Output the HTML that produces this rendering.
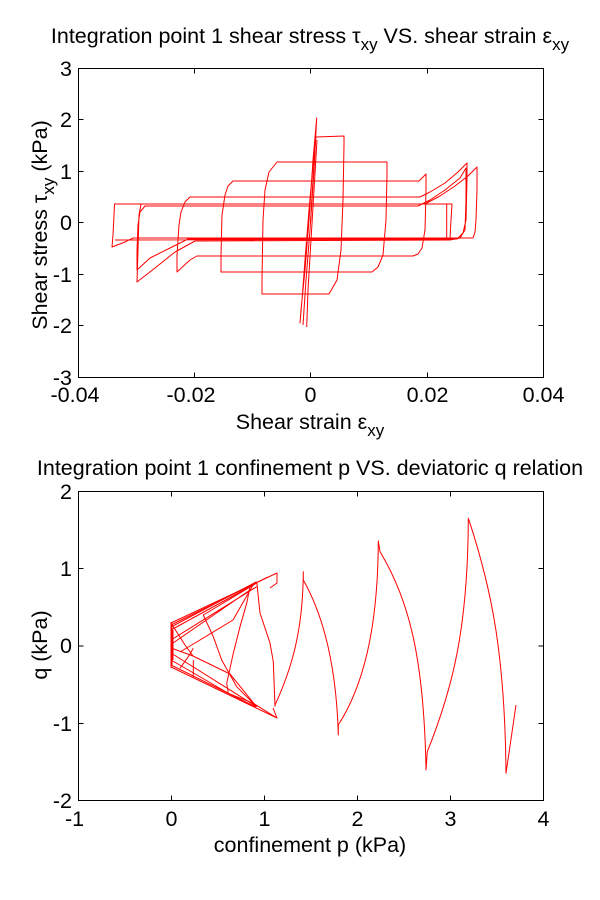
<!DOCTYPE html>
<html>
<head>
<meta charset="utf-8">
<style>
html,body{margin:0;padding:0;background:#fff;}
svg{display:block;}
text{font-family:"Liberation Sans",Arial,sans-serif;font-size:21.5px;fill:#000;}
</style>
</head>
<body>
<svg width="600" height="900" viewBox="0 0 600 900" xmlns="http://www.w3.org/2000/svg">
<rect x="0" y="0" width="600" height="900" fill="#fff"/>

<!-- ========== TOP PLOT ========== -->
<g fill="none" stroke="#ff0000" stroke-width="1" stroke-linejoin="round">
<path d="M310.5,222.5 L314,170 L316.7,118 L313,160 L309,220 L305,270 L301,310 L300,323 L302,300 L305,260 L309,210 L313,165 L316,137 L344,136 L344,145 L343,200 L341,250 L337,280 L329,294 L262,294 L262,280 L263,220 L265,190 L269,172 L277,162 L387,162 L387,175 L386,220 L383,255 L378,267 L372,272 L221,272 L221,255 L222,215 L225,195 L228,186 L233,181 L419,181 L426,174 L426,190 L425,230 L422,248 L418,254 L413,256 L197,256 L190,260 L177,272 L177,255 L179,225 L181,212 L185,202 L190,197 L420,197 L430,192 L445,183 L458,172 L467,163 L467,180 L466,220 L463,233 L457,239 L188,239 L170,248 L150,258 L137,270 L137,250 L138,225 L140,212 L145,206 L418,206 L430,200 L445,190 L460,178 L466,168 L466,200 L465,230 L460,238 L450,240 L195,241 L175,252 L155,268 L137,282 L138,250 L139,215 L141,204 L425,204 L440,196 L455,186 L468,176 L477,167 L477,190 L476,220 L475,232 L473,238 L133,238 L125,242 L112,247 L113,235 L114,215 L114.5,204 L452,204 L451,220 L450,239 L115,240"/>
<path d="M306.7,327 L308,290 L311,240 L314,190 L317,140"/>
<path d="M303,325 L306,280 L310,230 L313,180 L315.5,140"/>
<path d="M446.7,204 L446.7,240"/>
</g>

<!-- top axes -->
<g stroke="#000" stroke-width="1" fill="none">
<rect x="78.5" y="68.5" width="465" height="309"/>
<path d="M194.5,68.5 v5 M310.5,68.5 v5 M427.5,68.5 v5 M194.5,377.5 v-5 M310.5,377.5 v-5 M427.5,377.5 v-5"/>
<path d="M78.5,119.5 h5 M78.5,171.5 h5 M78.5,222.5 h5 M78.5,274.5 h5 M78.5,325.5 h5 M543.5,119.5 h-5 M543.5,171.5 h-5 M543.5,222.5 h-5 M543.5,274.5 h-5 M543.5,325.5 h-5"/>
</g>
<g text-anchor="end">
<text x="72" y="76">3</text>
<text x="72" y="127">2</text>
<text x="72" y="179">1</text>
<text x="72" y="230">0</text>
<text x="72" y="282">-1</text>
<text x="72" y="333">-2</text>
<text x="72" y="385">-3</text>
</g>
<g text-anchor="middle">
<text x="75" y="402">-0.04</text>
<text x="191" y="402">-0.02</text>
<text x="310.5" y="402">0</text>
<text x="427.5" y="402">0.02</text>
<text x="543.5" y="402">0.04</text>
<text x="310" y="43">Integration point 1 shear stress τ<tspan dy="7" font-size="17">xy</tspan><tspan dy="-7"> VS. shear strain ε</tspan><tspan dy="7" font-size="17">xy</tspan></text>
<text x="310" y="429">Shear strain ε<tspan dy="7" font-size="17">xy</tspan></text>
<text transform="translate(47,225) rotate(-90)" x="0" y="0">Shear stress τ<tspan dy="7" font-size="17">xy</tspan><tspan dy="-7"> (kPa)</tspan></text>
</g>

<!-- ========== BOTTOM PLOT ========== -->
<g fill="none" stroke="#ff0000" stroke-width="1" stroke-linejoin="round">
<!-- triangle region -->
<path d="M171,623 L277,573 L277,583 L270,588"/>
<path d="M171,625 L268,577"/>
<path d="M171,627 L256,582"/>
<path d="M171,630 L253,585"/>
<path d="M171,667 L277,718 L273,708"/>
<path d="M171,665 L256,707"/>
<path d="M171,660 L228,693"/>
<path d="M171,622 L171,668 M172,625 L172,665 M173,630 L173,660"/>
<path d="M256.7,581.7 L260,613 L270,643 L273.3,661.7 L275,706.7"/>
<path d="M250,586.7 L246.7,603.3 L240,626.7 L233.3,653.3 L226.7,683.3 L228.3,693.3 L236.7,696.7 L253.3,703.3 L277,718"/>
<path d="M256.7,583 L203.3,615 L213.3,636.7 L221.7,660 L236.7,686.7 L256.7,706.7"/>
<path d="M171,640 L256.7,586.7 M173,643 L250,590"/>
<path d="M171,653 L256.7,706.7"/>
<path d="M171,648 L193,656 L230,674 L256,706"/>
<path d="M171,623 L185,645 L193,656"/>
<path d="M193.3,648.3 L188.3,656.7 L180,668.3"/>
<path d="M193.3,660 L193.3,677"/>
<path d="M253,585 L233,620 L200,640 L180,652"/>
<!-- zig-zag -->
<path d="M275,705 C292,668 303,630 303.3,571.7 L303.3,580 C318,606 336,652 338.3,735 L338.3,725 C362,688 378,632 378.3,541 L380,551.7 C408,598 424,655 426,770 L427.3,751.7 C452,690 468,630 468.3,518.3 L470,523.3 C490,585 505,650 506,773.3 L516,705"/>
</g>

<!-- bottom axes -->
<g stroke="#000" stroke-width="1" fill="none">
<rect x="78.5" y="491.5" width="465" height="309"/>
<path d="M171.5,491.5 v5 M264.5,491.5 v5 M357.5,491.5 v5 M450.5,491.5 v5 M171.5,800.5 v-5 M264.5,800.5 v-5 M357.5,800.5 v-5 M450.5,800.5 v-5"/>
<path d="M78.5,568.5 h5 M78.5,646 h5 M78.5,723.5 h5 M543.5,568.5 h-5 M543.5,646 h-5 M543.5,723.5 h-5"/>
</g>
<g text-anchor="end">
<text x="72" y="499">2</text>
<text x="72" y="576">1</text>
<text x="72" y="653">0</text>
<text x="72" y="731">-1</text>
<text x="72" y="808">-2</text>
</g>
<g text-anchor="middle">
<text x="74.5" y="826">-1</text>
<text x="171.5" y="826">0</text>
<text x="264.5" y="826">1</text>
<text x="357.5" y="826">2</text>
<text x="450.5" y="826">3</text>
<text x="543.5" y="826">4</text>
<text x="310" y="475">Integration point 1 confinement p VS. deviatoric q relation</text>
<text x="310" y="852">confinement p (kPa)</text>
<text transform="translate(47,645) rotate(-90)" x="0" y="0">q (kPa)</text>
</g>
</svg>
</body>
</html>
